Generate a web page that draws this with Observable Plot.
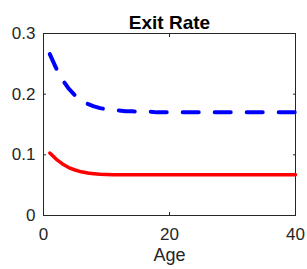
<!DOCTYPE html>
<html>
<head>
<meta charset="utf-8">
<script src="https://cdn.jsdelivr.net/npm/d3@7"></script>
<script src="https://cdn.jsdelivr.net/npm/@observablehq/plot@0.6"></script>
<style>
  html, body { margin: 0; padding: 0; background: #fff; }
  #chart { width: 307px; height: 269px; overflow: hidden; }
</style>
</head>
<body>
<div id="chart"></div>
<script>
const title = "Exit Rate";
const xLabel = "Age";
const ages = d3.range(1, 41);
const exitHigh = [0.266, 0.243, 0.224, 0.209, 0.198, 0.190, 0.184, 0.180, 0.177, 0.175,
  0.174, 0.173, 0.172, 0.172, 0.171, 0.171, 0.171, 0.170, 0.170, 0.170,
  0.170, 0.170, 0.170, 0.170, 0.170, 0.170, 0.170, 0.170, 0.170, 0.170,
  0.170, 0.170, 0.170, 0.170, 0.170, 0.170, 0.170, 0.170, 0.170, 0.170];
const exitLow = [0.103, 0.093, 0.085, 0.079, 0.075, 0.072, 0.070, 0.069, 0.068, 0.0675,
  0.067, 0.067, 0.067, 0.067, 0.067, 0.067, 0.067, 0.067, 0.067, 0.067,
  0.067, 0.067, 0.067, 0.067, 0.067, 0.067, 0.067, 0.067, 0.067, 0.067,
  0.067, 0.067, 0.067, 0.067, 0.067, 0.067, 0.067, 0.067, 0.067, 0.067];
const xTicks = [0, 20, 40];
const yTicks = [0, 0.1, 0.2, 0.3];

const high = ages.map((a, i) => ({age: a, v: exitHigh[i]}));
const low = ages.map((a, i) => ({age: a, v: exitLow[i]}));

const font = "'Liberation Sans', Arial, Helvetica, sans-serif";
const chart = Plot.plot({
  width: 307,
  height: 269,
  marginLeft: 43,
  marginRight: 12,
  marginTop: 33,
  marginBottom: 54,
  style: {fontFamily: font, fontSize: "17px", color: "#262626", background: "#fff"},
  x: {domain: [0, 40]},
  y: {domain: [0, 0.3]},
  marks: [
    Plot.frame({stroke: "#262626", strokeWidth: 1}),
    Plot.axisX({ticks: xTicks, tickSize: -3, tickPadding: 15, tickFormat: d => String(d), label: null, fontSize: 17}),
    Plot.axisX({ticks: xTicks, anchor: "top", tickSize: -3, tickFormat: () => "", label: null}),
    Plot.axisY({ticks: yTicks, tickSize: -3, tickPadding: 11, tickFormat: d => String(d), label: null, fontSize: 17}),
    Plot.axisY({ticks: yTicks, anchor: "right", tickSize: -3, tickFormat: () => "", label: null}),
    Plot.line(low, {x: "age", y: "v", stroke: "#ff0000", strokeWidth: 3.5}),
    Plot.line(high, {x: "age", y: "v", stroke: "#0000ff", strokeWidth: 4, strokeDasharray: "16,16"}),
    Plot.text([title], {frameAnchor: "top", dy: -18, fontWeight: "bold", fontSize: 19, fill: "#000"}),
    Plot.text([xLabel], {frameAnchor: "bottom", dy: 45, fontSize: 18, fill: "#262626"})
  ]
});
document.getElementById("chart").appendChild(chart);
</script>
</body>
</html>
